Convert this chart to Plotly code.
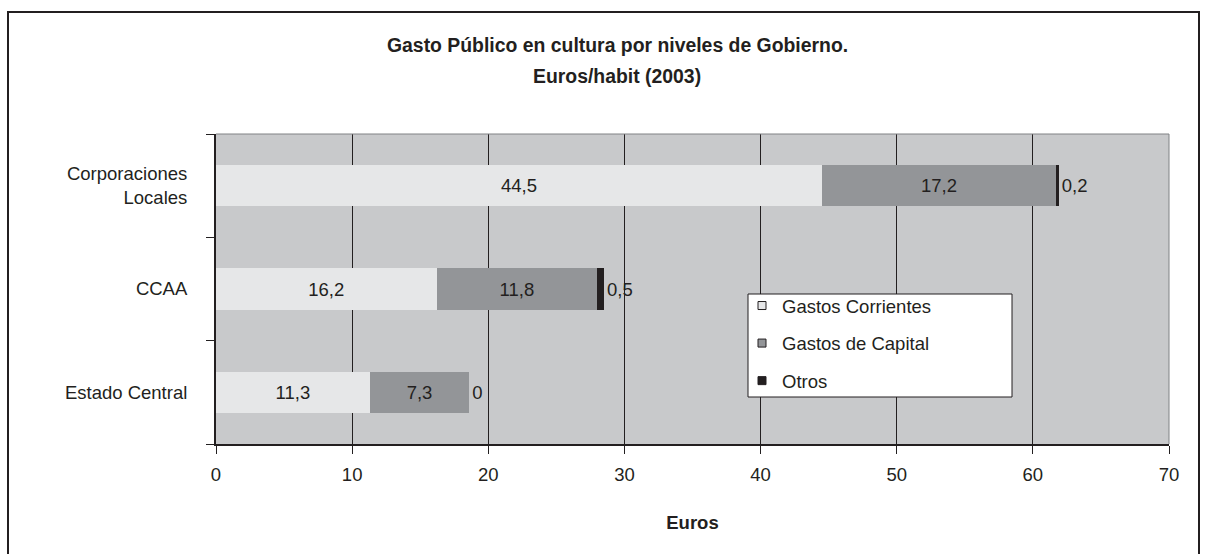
import plotly.graph_objects as go

categories = ["Estado Central", "CCAA", "Corporaciones<br>Locales"]
gastos_corrientes = [11.3, 16.2, 44.5]
gastos_capital = [7.3, 11.8, 17.2]
otros = [0, 0.5, 0.2]
x_ticks = [0, 10, 20, 30, 40, 50, 60, 70]

TXT = "#231f20"
FONT = "Liberation Sans, Arial, Helvetica, sans-serif"
FS = 18.5


def fmt(v):
    return f"{v:g}".replace(".", ",")


def px(x):
    return (x - 216) / 953


def py(y):
    return (444 - y) / 310


fig = go.Figure()
series = [
    ("Gastos Corrientes", gastos_corrientes, "#e6e7e8", "inside"),
    ("Gastos de Capital", gastos_capital, "#939598", "inside"),
    ("Otros", otros, "#231f20", "outside"),
]
for i, (name, vals, col, pos) in enumerate(series):
    fig.add_trace(go.Bar(
        y=categories, x=vals, name=name, orientation="h",
        marker=dict(color=col, line=dict(width=0)),
        text=[fmt(v) for v in vals], textposition=pos,
        insidetextanchor="middle", constraintext="none",
        textfont=dict(size=FS, color=TXT, family=FONT),
        cliponaxis=False, width=0.4,
        showlegend=False,
    ))
# legend entries (small bordered squares like the original)
for i, (name, vals, col, pos) in enumerate(series):
    fig.add_trace(go.Scatter(
        x=[None], y=[None], mode="markers", name=name,
        marker=dict(symbol="square", size=8, color=col, line=dict(color=TXT, width=1)),
        legendgroup=f"g{i}", showlegend=True,
    ))

fig.update_layout(
    width=1206, height=554,
    barmode="stack",
    paper_bgcolor="white", plot_bgcolor="#c8c9cb",
    margin=dict(l=216, r=37, t=134, b=110),
    font=dict(family=FONT, size=FS, color=TXT),
    separators=",.",
    showlegend=True,
    legend=dict(
        x=px(742), y=py(287), xanchor="left", yanchor="top",
        bgcolor="rgba(0,0,0,0)", borderwidth=0,
        font=dict(size=FS, color=TXT, family=FONT),
        traceorder="grouped", tracegroupgap=10.5,
        itemwidth=30,
    ),
    xaxis=dict(
        range=[0, 70], tickvals=x_ticks, ticktext=[str(t) for t in x_ticks],
        showgrid=True, gridcolor=TXT, gridwidth=1,
        showline=True, linecolor=TXT, linewidth=2,
        ticks="outside", ticklen=8, tickcolor=TXT, tickwidth=1,
        ticklabelstandoff=5,
        zeroline=False, fixedrange=True,
        title=dict(text="<b>Euros</b>", font=dict(size=FS, color=TXT, family=FONT), standoff=32),
        tickfont=dict(size=FS, color=TXT, family=FONT),
    ),
    yaxis=dict(
        type="category", tickson="boundaries",
        showgrid=False, showline=True, linecolor=TXT, linewidth=2,
        ticks="outside", ticklen=8, tickcolor=TXT, tickwidth=1,
        ticklabelstandoff=23,
        tickfont=dict(size=FS, color=TXT, family=FONT),
        zeroline=False, fixedrange=True,
    ),
)

fig.add_annotation(text="<b>Gasto Público en cultura por niveles de Gobierno.</b>",
                   x=px(617), y=py(45), xref="paper", yref="paper",
                   showarrow=False, xanchor="center", yanchor="middle",
                   font=dict(size=19.4, color=TXT, family=FONT))
fig.add_annotation(text="<b>Euros/habit (2003)</b>",
                   x=px(617), y=py(76), xref="paper", yref="paper",
                   showarrow=False, xanchor="center", yanchor="middle",
                   font=dict(size=19.4, color=TXT, family=FONT))

# legend box
fig.add_shape(type="rect", xref="paper", yref="paper",
              x0=px(748), x1=px(1012), y0=py(397), y1=py(294),
              line=dict(color=TXT, width=1), fillcolor="white", layer="above")
# plot area top and right border (grey)
fig.add_shape(type="line", xref="paper", yref="paper", x0=0, x1=1, y0=1, y1=1,
              line=dict(color="#808285", width=1), layer="above")
fig.add_shape(type="line", xref="paper", yref="paper", x0=1, x1=1, y0=0, y1=1,
              line=dict(color="#808285", width=1), layer="above")
# outer frame
fig.add_shape(type="rect", xref="paper", yref="paper",
              x0=px(8), x1=px(1199), y0=py(570), y1=py(12),
              line=dict(color=TXT, width=2), fillcolor="rgba(0,0,0,0)", layer="above")

fig.write_html("out.html")
